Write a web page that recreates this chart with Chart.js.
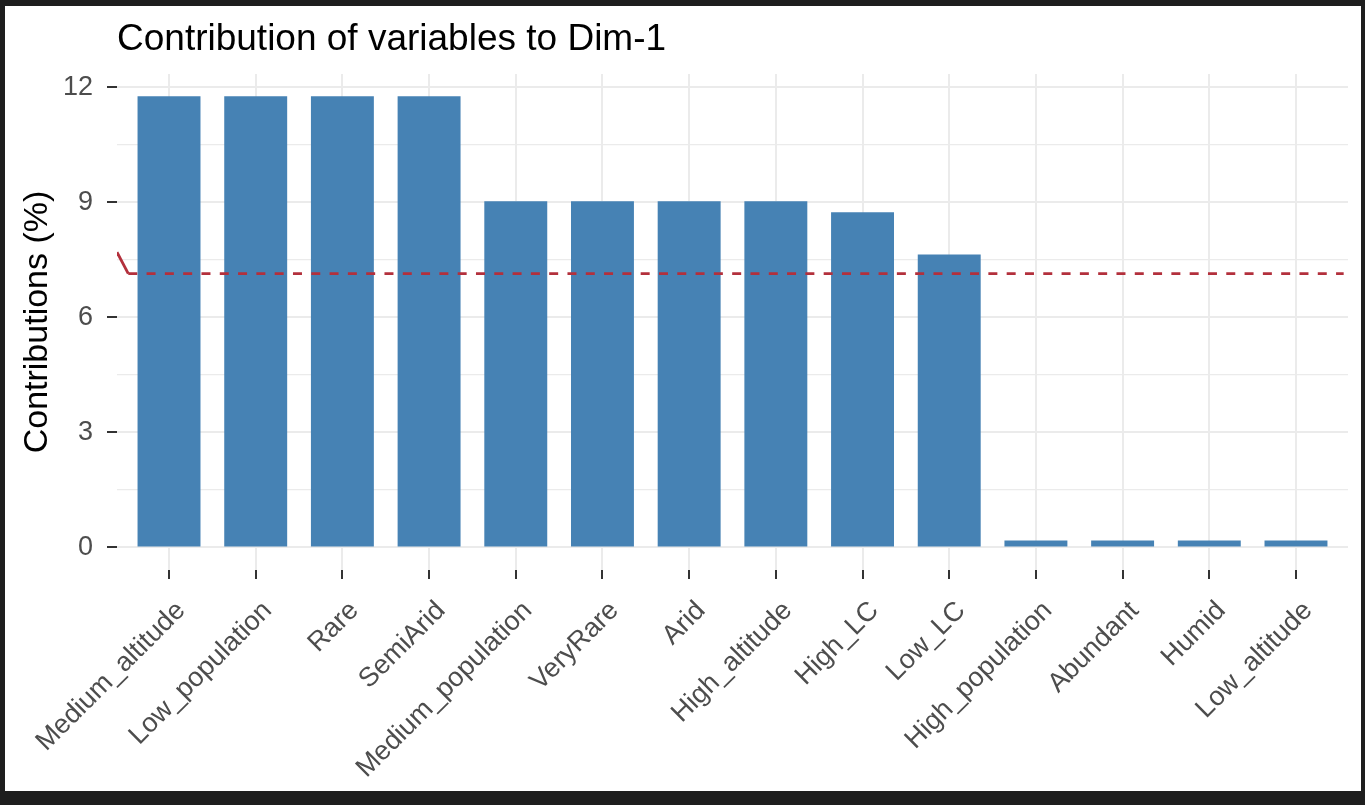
<!DOCTYPE html>
<html>
<head>
<meta charset="utf-8">
<script src="https://cdn.jsdelivr.net/npm/chart.js@4.4.1/dist/chart.umd.min.js"></script>
<style>
  html, body { margin: 0; padding: 0; background: #1e1e1e; width: 1365px; height: 805px; overflow: hidden; }
  #wrap { position: absolute; left: 5px; top: 6px; width: 1356px; height: 785px; background: #ffffff; }
  canvas { display: block; }
</style>
</head>
<body>
<div id="wrap"><canvas id="c" width="1356" height="785"></canvas></div>
<script>
// ---- data ----
const categories = ["Medium_altitude", "Low_population", "Rare", "SemiArid", "Medium_population",
  "VeryRare", "Arid", "High_altitude", "High_LC", "Low_LC", "High_population", "Abundant", "Humid", "Low_altitude"];
const contributions = [11.77, 11.77, 11.77, 11.77, 9.03, 9.03, 9.03, 9.03, 8.74, 7.64, 0.18, 0.18, 0.18, 0.18];
const yTickValues = [0, 1.5, 3, 4.5, 6, 7.5, 9, 10.5, 12];
const yMajorTicks = [0, 3, 6, 9, 12];
// expected average contribution reference line (with the short stroke at its left end)
const refLineX = [-0.6, -0.47, 13.55];
const refLineY = [7.70, 7.14, 7.14];

const titleText = "Contribution of variables to Dim-1";
const yTitle = "Contributions (%)";

const FONT = "'Liberation Sans', Arial, Helvetica, sans-serif";

const barData = contributions.map((v, i) => ({ x: i, y: v }));
const lineData = refLineX.map((x, i) => ({ x: x, y: refLineY[i] }));

new Chart(document.getElementById('c'), {
  type: 'bar',
  data: {
    datasets: [
      {
        type: 'line',
        data: lineData,
        borderColor: '#b3303c',
        borderWidth: 2.8,
        pointRadius: 0,
        fill: false,
        tension: 0,
        order: 0,
        segment: {
          borderDash: ctx => ctx.p0DataIndex === 0 ? [] : [9, 9.3]
        }
      },
      {
        type: 'bar',
        data: barData,
        backgroundColor: '#4682B4',
        borderWidth: 0,
        categoryPercentage: 1,
        barPercentage: 0.726,
        order: 1
      }
    ]
  },
  options: {
    responsive: false,
    devicePixelRatio: 1,
    animation: false,
    events: [],
    layout: { padding: { left: 0, right: 13, top: 0, bottom: 0 } },
    plugins: {
      legend: { display: false },
      tooltip: { enabled: false },
      title: {
        display: true,
        text: titleText,
        align: 'start',
        fullSize: false,
        color: '#000000',
        font: { family: FONT, size: 37, weight: 'normal', lineHeight: 1.2 },
        padding: { top: 12, bottom: 11.6 }
      }
    },
    scales: {
      x: {
        type: 'linear',
        min: -0.6,
        max: 13.6,
        offset: false,
        border: { display: false },
        afterBuildTicks: s => { s.ticks = categories.map((c, i) => ({ value: i })); },
        afterFit: s => { s.height = 221; },
        grid: {
          offset: false,
          color: '#ebebeb',
          lineWidth: 2,
          drawTicks: true,
          tickLength: 9,
          tickColor: '#333333',
          tickWidth: 2
        },
        ticks: {
          autoSkip: false,
          maxRotation: 45,
          minRotation: 45,
          padding: 16,
          labelOffset: 12,
          color: '#4d4d4d',
          font: { family: FONT, size: 27 },
          callback: v => categories[v] !== undefined ? categories[v] : ''
        }
      },
      y: {
        type: 'linear',
        min: -0.59,
        max: 12.35,
        border: { display: false },
        afterBuildTicks: s => { s.ticks = yTickValues.map(v => ({ value: v })); },
        afterFit: s => { s.width = 112; },
        grid: {
          color: '#ebebeb',
          lineWidth: ctx => (ctx.tick && yMajorTicks.includes(ctx.tick.value)) ? 2 : 1.3,
          drawTicks: true,
          tickLength: 10,
          tickWidth: 2,
          tickColor: ctx => (ctx.tick && yMajorTicks.includes(ctx.tick.value)) ? '#333333' : 'rgba(0,0,0,0)'
        },
        ticks: {
          padding: 14,
          color: '#4d4d4d',
          font: { family: FONT, size: 27 },
          callback: v => yMajorTicks.includes(v) ? String(v) : ''
        },
        title: {
          display: true,
          text: yTitle,
          color: '#000000',
          font: { family: FONT, size: 34, weight: 'normal', lineHeight: 1.2 },
          padding: { top: 12, bottom: 0 }
        }
      }
    }
  }
});
</script>
</body>
</html>
